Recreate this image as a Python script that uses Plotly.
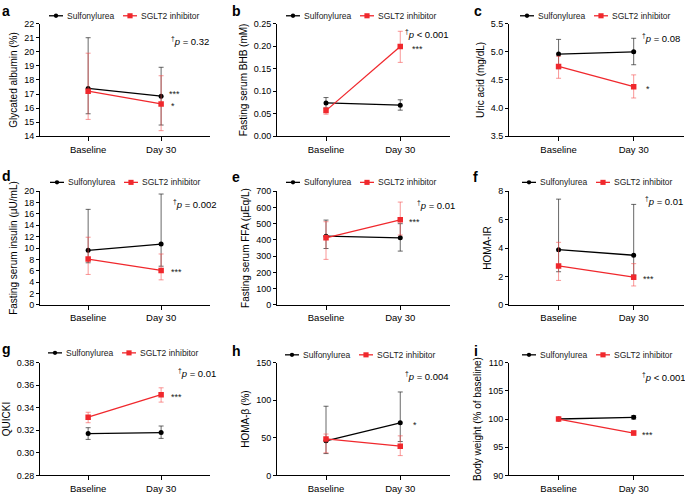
import plotly.graph_objects as go

# ---------------- data ----------------
timepoints = ["Baseline", "Day 30"]
series_names = ["Sulfonylurea", "SGLT2 inhibitor"]
panel_letters = ["a", "b", "c", "d", "e", "f", "g", "h", "i"]
y_titles = [
    "Glycated albumin (%)",
    "Fasting serum BHB (mM)",
    "Uric acid (mg/dL)",
    "Fasting serum insulin (μU/mL)",
    "Fasting serum FFA (μEq/L)",
    "HOMA-IR",
    "QUICKI",
    "HOMA-β (%)",
    "Body weight (% of baseline)",
]

# Sulfonylurea: centre values, upper and lower ends of the error bars
su_value = [[17.4, 16.85], [0.074, 0.069], [4.96, 5.00], [9.6, 10.7], [423, 413],
            [3.88, 3.49], [0.3171, 0.3180], [46, 70], [100.0, 100.3]]
su_upper = [[21.0, 18.9], [0.086, 0.081], [5.22, 5.24], [16.8, 19.5], [522, 500],
            [7.44, 7.07], [0.3223, 0.3238], [92, 111], [100.2, 100.6]]
su_lower = [[15.6, 14.8], [0.063, 0.058], [4.70, 4.77], [7.4, 6.8], [347, 331],
            [2.33, 2.10], [0.3119, 0.3128], [29, 45], [99.8, 100.0]]

# SGLT2 inhibitor
sg_value = [[17.2, 16.3], [0.057, 0.199], [4.74, 4.38], [8.05, 6.05], [413, 524],
            [2.74, 1.95], [0.3316, 0.3516], [48.5, 38.8], [100.0, 97.5]]
sg_upper = [[19.9, 18.3], [0.064, 0.233], [4.92, 4.59], [11.9, 8.95], [512, 633],
            [4.40, 2.90], [0.3360, 0.3577], [55, 52.6], [100.2, 97.9]]
sg_lower = [[15.2, 14.4], [0.049, 0.164], [4.53, 4.18], [5.35, 4.4], [280, 430],
            [1.72, 1.33], [0.3267, 0.3450], [30, 26.3], [99.8, 97.1]]

p_texts = ["<sup>†</sup><i>p</i> = 0.32", "<sup>†</sup><i>p</i> < 0.001",
           "<sup>†</sup><i>p</i> = 0.08", "<sup>†</sup><i>p</i> = 0.002",
           "<sup>†</sup><i>p</i> = 0.01", "<sup>†</sup><i>p</i> = 0.01",
           "<sup>†</sup><i>p</i> = 0.01", "<sup>†</sup><i>p</i> = 0.004",
           "<sup>†</sup><i>p</i> < 0.001"]
p_value_y = [20.8, 0.226, 5.24, 17.7, 613, 7.3, 0.3704, 132, 107.5]

# significance stars at Day 30: (text, series index 0=SU 1=SGLT2)
stars = [[("***", 0), ("*", 1)], [("***", 1)], [("*", 1)], [("***", 1)], [("***", 1)],
         [("***", 1)], [("***", 1)], [("*", 0)], [("***", 1)]]

y_ranges = [[14, 22], [0, 0.25], [3.5, 5.5], [0, 20], [0, 700], [0, 8], [0.28, 0.38], [0, 150], [90, 110]]
y_dticks = [1, 0.05, 0.5, 2, 100, 2, 0.02, 50, 5]
y_formats = ["", ".2f", ".1f", "", "", "", ".2f", "", ""]

# ---------------- layout / style ----------------
W, H = 685, 498
FONT = "Liberation Sans, Arial, Helvetica, sans-serif"
BLACK = "#000000"
RED = "#F0282D"
col_px = [(40, 210), (277, 450), (509, 684)]
row_px = [(19, 134), (190, 306), (365, 480)]
p_x = [1.11, 1.04, 1.09, 1.13, 1.20, 1.13, 1.20, 1.04, 1.09]
star_shift = [[6, 8], [10], [10], [8], [7], [7], [8], [11], [6]]
star_yshift = [[2, -2], [-2], [-2], [-2], [-2], [-2], [-2], [-2], [-2]]
letter_px = [(0, 6), (230, 6), (472, 6), (0, 174), (230, 176), (471, 176), (0, 351), (230, 353), (472, 353)]
legend_px = [(49, 11), (286, 11), (520, 11), (50, 181), (286, 181), (522, 181), (48, 355), (285, 357), (522, 357)]


def fx(px):
    return px / W


def fy(py):
    return 1 - py / H


fig = go.Figure()
layout = dict(
    width=W, height=H, margin=dict(l=0, r=0, t=0, b=0),
    paper_bgcolor="white", plot_bgcolor="white",
    showlegend=False, font=dict(family=FONT, size=10, color=BLACK),
)
annotations = []
shapes = []

for i in range(9):
    r, c = divmod(i, 3)
    k = "" if i == 0 else str(i + 1)
    xa, ya = "x" + k, "y" + k
    x0, x1 = col_px[c]
    y0, y1 = row_px[r]

    series = [
        (su_value[i], su_upper[i], su_lower[i], BLACK, "circle", 5, "rgba(40,40,40,0.7)"),
        (sg_value[i], sg_upper[i], sg_lower[i], RED, "square", 5.5, "rgba(245,80,80,0.6)"),
    ]
    for s, (vals, ups, los, col, sym, msz, ecol) in enumerate(series):
        fig.add_trace(go.Scatter(
            x=timepoints, y=vals, name=series_names[s], mode="lines+markers",
            xaxis=xa, yaxis=ya,
            line=dict(color=col, width=1.3),
            marker=dict(color=col, symbol=sym, size=msz),
            error_y=dict(type="data", symmetric=False,
                         array=[u - v for u, v in zip(ups, vals)],
                         arrayminus=[v - l for v, l in zip(vals, los)],
                         color=ecol, thickness=1, width=2.5),
            showlegend=False, hoverinfo="skip",
        ))

    layout["xaxis" + k] = dict(
        domain=[fx(x0), fx(x1)], anchor=ya, type="category", range=[-0.66, 1.67],
        showline=True, linecolor=BLACK, linewidth=1, ticks="outside", ticklen=4,
        tickcolor=BLACK, tickfont=dict(size=9.5), showgrid=False, zeroline=False,
        fixedrange=True,
    )
    layout["yaxis" + k] = dict(
        domain=[fy(y1), fy(y0)], anchor=xa, range=y_ranges[i], tick0=y_ranges[i][0],
        dtick=y_dticks[i], tickformat=y_formats[i], showline=True, linecolor=BLACK,
        linewidth=1, ticks="outside", ticklen=3, tickcolor=BLACK, tickfont=dict(size=9),
        showgrid=False, zeroline=False, fixedrange=True,
        title=dict(text=y_titles[i], font=dict(size=10), standoff=4),
    )

    # p value
    annotations.append(dict(xref=xa, yref=ya, x=p_x[i], y=p_value_y[i], text=p_texts[i],
                            showarrow=False, xanchor="left", yanchor="middle",
                            font=dict(size=9.5, color=BLACK)))
    # stars
    for j, (txt, sidx) in enumerate(stars[i]):
        yv = (su_value[i] if sidx == 0 else sg_value[i])[1]
        annotations.append(dict(xref=xa, yref=ya, x=1, y=yv, text=txt, showarrow=False,
                                xanchor="left", yanchor="middle", xshift=star_shift[i][j],
                                yshift=star_yshift[i][j], font=dict(size=9, color="#222")))
    # panel letter
    lx, ly = letter_px[i]
    annotations.append(dict(xref="paper", yref="paper", x=fx(lx), y=fy(ly), text="<b>%s</b>" % panel_letters[i],
                            showarrow=False, xanchor="left", yanchor="middle",
                            font=dict(size=14, color=BLACK)))
    # legend (per panel)
    gx, gy = legend_px[i]
    for s, (off, col, shp, rad) in enumerate([(0, BLACK, "circle", 2.2), (74, RED, "rect", 2.6)]):
        sx = gx + off
        shapes.append(dict(type="line", xref="paper", yref="paper", x0=fx(sx), x1=fx(sx + 14),
                           y0=fy(gy), y1=fy(gy), line=dict(color=col, width=1.3)))
        shapes.append(dict(type=shp, xref="paper", yref="paper", x0=fx(sx + 7 - rad), x1=fx(sx + 7 + rad),
                           y0=fy(gy + rad), y1=fy(gy - rad), fillcolor=col, line=dict(width=0)))
        annotations.append(dict(xref="paper", yref="paper", x=fx(sx + 16), y=fy(gy), text=series_names[s],
                                showarrow=False, xanchor="left", yanchor="middle",
                                font=dict(size=8.5, color="#222")))

layout["annotations"] = annotations
layout["shapes"] = shapes
fig.update_layout(**layout)
fig.write_html("out.html",
               config={"displayModeBar": False, "staticPlot": True},
               post_script="document.body.style.margin='0';document.body.style.padding='0';"
                           "document.documentElement.style.overflow='hidden';")
